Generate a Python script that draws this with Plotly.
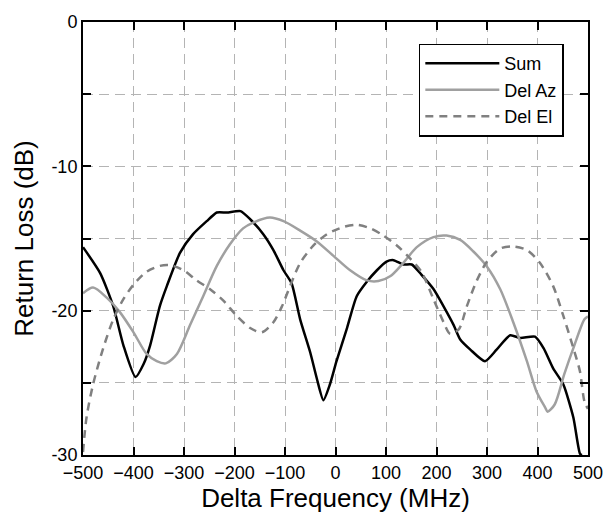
import plotly.graph_objects as go

# ---- data ----
sum_x = [-500, -466, -440, -420, -396, -380, -367, -348, -334, -308, -282, -255, -235,
         -215, -188, -168, -143, -123, -103, -87, -70, -50, -37, -24, -11, 2, 22, 42,
         62, 82, 101, 115, 134, 151, 170, 194, 214, 234, 247, 267, 296, 319, 346, 366,
         395, 412, 431, 451, 471, 484, 488]
sum_y = [-15.6, -17.4, -19.7, -22.4, -24.6, -23.7, -22.4, -19.7, -18.3, -16.0, -14.7,
         -13.8, -13.2, -13.2, -13.1, -13.7, -14.7, -15.8, -17.2, -18.1, -20.6, -22.9,
         -24.7, -26.2, -25.1, -23.5, -21.3, -19.0, -18.0, -17.2, -16.6, -16.5, -16.8,
         -16.8, -17.5, -18.5, -19.7, -21.0, -22.0, -22.7, -23.5, -22.7, -21.7, -21.9,
         -21.8, -22.6, -24.0, -25.1, -27.4, -29.9, -30.0]

az_x = [-500, -480, -453, -427, -400, -374, -354, -336, -314, -288, -262, -235, -209,
        -183, -163, -130, -103, -70, -37, -4, 29, 62, 85, 109, 134, 161, 194, 220, 247,
        273, 300, 326, 352, 379, 398, 415, 420, 434, 453, 473, 493, 500]
az_y = [-18.8, -18.4, -19.1, -20.1, -21.5, -23.0, -23.5, -23.65, -23.0, -21.0, -19.0,
        -16.9, -15.4, -14.3, -13.9, -13.55, -13.8, -14.45, -15.2, -16.2, -17.2, -17.9,
        -17.95, -17.6, -16.7, -15.6, -14.9, -14.8, -15.1, -15.9, -16.95, -18.5, -20.8,
        -23.5, -25.6, -26.7, -27.0, -26.5, -24.4, -22.4, -20.6, -20.4]

el_x = [-500, -493, -480, -460, -440, -420, -400, -374, -348, -328, -301, -275, -249,
        -222, -196, -169, -146, -123, -106, -90, -70, -44, -17, 16, 42, 69, 95, 122,
        148, 170, 194, 214, 227, 244, 260, 280, 300, 326, 352, 379, 405, 431, 451, 471,
        484, 493, 500]
el_y = [-29.8, -27.4, -25.1, -22.6, -20.6, -19.2, -18.2, -17.3, -16.9, -16.85, -17.2,
        -17.9, -18.5, -19.3, -20.35, -21.2, -21.5, -20.8, -19.7, -18.3, -16.7, -15.5,
        -14.7, -14.2, -14.05, -14.3, -14.8, -15.5, -16.4, -17.3, -19.2, -20.8, -21.6,
        -21.3, -19.7, -17.9, -16.6, -15.7, -15.55, -15.8, -16.7, -18.3, -20.35, -22.6,
        -24.2, -26.3, -26.8]

x_ticks = [-500, -400, -300, -200, -100, 0, 100, 200, 300, 400, 500]
y_ticks = [0, -5, -10, -15, -20, -25, -30]
y_tick_text = ["0", "", "-10", "", "-20", "", "-30"]

FONT = "Liberation Sans, Arial, sans-serif"

fig = go.Figure()
fig.add_trace(go.Scatter(x=sum_x, y=sum_y, mode="lines", name="Sum",
                         line=dict(color="black", width=2.5, shape="spline", smoothing=0.6)))
fig.add_trace(go.Scatter(x=az_x, y=az_y, mode="lines", name="Del Az",
                         line=dict(color="#a0a0a0", width=2.5, shape="spline", smoothing=0.8)))
fig.add_trace(go.Scatter(x=el_x, y=el_y, mode="lines", name="Del El",
                         line=dict(color="#808080", width=2.5, dash="8px,6px",
                                   shape="spline", smoothing=0.8)))

axis_common = dict(
    showline=True, linecolor="black", linewidth=2, mirror="allticks",
    ticks="inside", ticklen=8, tickwidth=2, tickcolor="black",
    showgrid=True, gridcolor="#b4b4b4", gridwidth=1, griddash="10px,6px",
    zeroline=False, tickfont=dict(family=FONT, size=18, color="black"),
)

fig.update_layout(
    width=616, height=519,
    margin=dict(l=83, r=28, t=15, b=64),
    paper_bgcolor="white", plot_bgcolor="white",
    font=dict(family=FONT, color="black"),
    xaxis=dict(range=[-500, 500], tickvals=x_ticks,
               title=dict(text="Delta Frequency (MHz)", font=dict(family=FONT, size=26),
                          standoff=2),
               **axis_common),
    yaxis=dict(range=[-30, 0], tickvals=y_ticks, ticktext=y_tick_text,
               title=dict(text="Return Loss (dB)", font=dict(family=FONT, size=26),
                          standoff=10),
               **axis_common),
    legend=dict(x=0.665, y=0.95, xanchor="left", yanchor="top",
                bgcolor="white", bordercolor="black", borderwidth=1.5,
                font=dict(family=FONT, size=18, color="black"),
                itemwidth=74, tracegroupgap=0),
    showlegend=True,
)

fig.write_html("out.html", config={"displayModeBar": False},
               post_script="document.body.style.margin='0';document.body.style.overflow='hidden';")
